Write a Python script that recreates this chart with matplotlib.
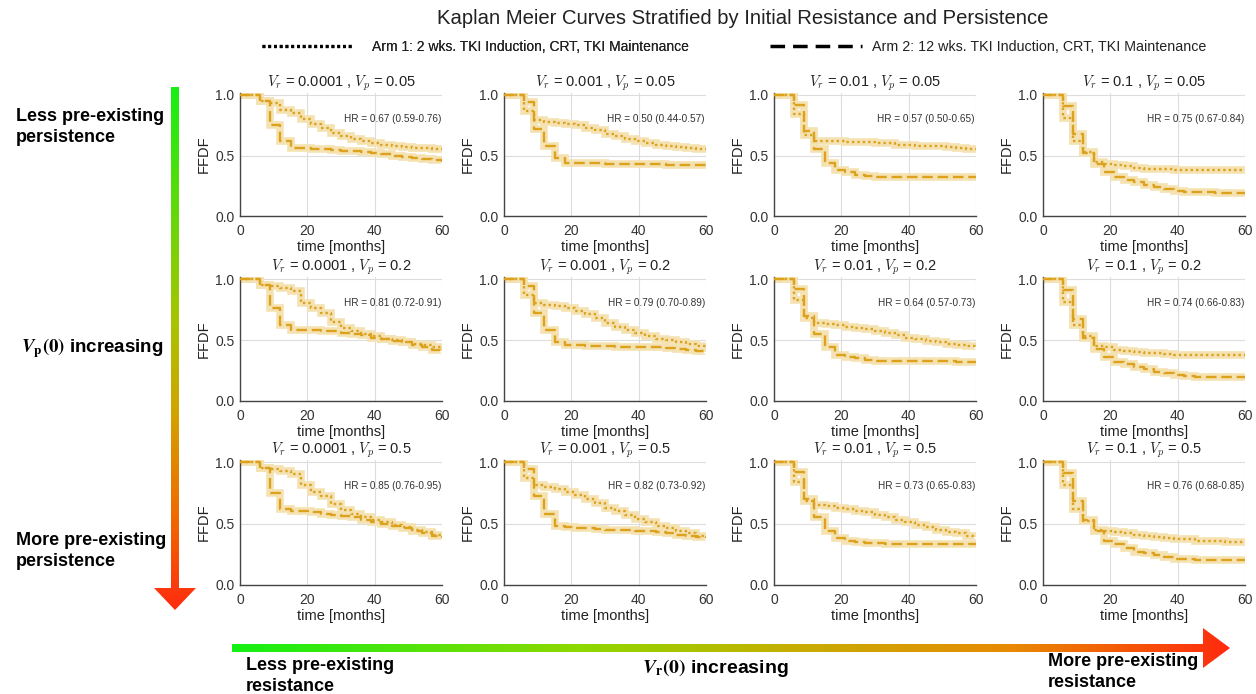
import numpy as np
import matplotlib
matplotlib.use("Agg")
import matplotlib.pyplot as plt
from matplotlib.lines import Line2D
from matplotlib.patches import Polygon
from matplotlib.colors import LinearSegmentedColormap

plt.rcParams['font.family'] = ['Liberation Sans', 'DejaVu Sans']

# temps des paliers (mois)
t_months = np.arange(0, 61, 3)

vr_values = ['0.0001', '0.001', '0.01', '0.1']
vp_values = ['0.05', '0.2', '0.5']

hr_labels = [
    ['0.67 (0.59-0.76)', '0.50 (0.44-0.57)', '0.57 (0.50-0.65)', '0.75 (0.67-0.84)'],
    ['0.81 (0.72-0.91)', '0.79 (0.70-0.89)', '0.64 (0.57-0.73)', '0.74 (0.66-0.83)'],
    ['0.85 (0.76-0.95)', '0.82 (0.73-0.92)', '0.73 (0.65-0.83)', '0.76 (0.68-0.85)'],
]

# Bras 1 : 2 sem. induction TKI (pointillés)
arm1_vp005 = [
    [1, 1, .95, .93, .88, .85, .80, .76, .73, .69, .66, .64, .62, .60, .59, .58, .57, .56, .56, .55, .55],
    [1, 1, .87, .79, .78, .77, .76, .75, .73, .71, .68, .66, .64, .62, .60, .59, .58, .57, .56, .555, .55],
    [1, 1, .84, .67, .62, .62, .62, .615, .61, .61, .60, .60, .59, .59, .58, .58, .575, .57, .56, .55, .55],
    [1, 1, .81, .62, .53, .45, .43, .42, .41, .40, .39, .39, .385, .38, .38, .38, .38, .38, .38, .38, .38],
]
arm1_vp02 = [
    [1, 1, .95, .94, .93, .90, .80, .76, .72, .65, .60, .57, .55, .53, .51, .50, .48, .47, .455, .44, .43],
    [1, 1, .87, .80, .79, .78, .76, .74, .71, .68, .64, .61, .58, .56, .53, .51, .50, .48, .47, .45, .44],
    [1, 1, .83, .68, .64, .63, .625, .61, .60, .59, .57, .56, .54, .52, .51, .49, .48, .47, .46, .45, .44],
    [1, 1, .81, .62, .53, .45, .44, .42, .41, .40, .39, .39, .385, .38, .38, .38, .38, .38, .38, .38, .38],
]
arm1_vp05 = [
    [1, 1, .95, .94, .93, .90, .81, .76, .72, .66, .61, .58, .55, .53, .51, .49, .47, .45, .43, .41, .39],
    [1, 1, .87, .81, .80, .78, .76, .73, .70, .67, .63, .60, .57, .54, .51, .48, .46, .44, .42, .40, .38],
    [1, 1, .84, .68, .65, .64, .63, .62, .60, .59, .57, .55, .53, .51, .49, .47, .45, .43, .42, .40, .39],
    [1, 1, .81, .62, .52, .45, .44, .43, .42, .41, .40, .39, .38, .375, .37, .36, .36, .355, .35, .35, .35],
]

# Bras 2 : 12 sem. induction TKI (tirets)
arm2_vp005 = [
    [1, 1, .95, .75, .62, .56, .56, .555, .55, .545, .54, .535, .53, .52, .51, .50, .49, .48, .47, .46, .45],
    [1, 1, .94, .72, .58, .48, .44, .44, .435, .435, .43, .43, .43, .43, .43, .43, .425, .425, .42, .42, .42],
    [1, 1, .92, .70, .55, .44, .38, .36, .34, .33, .325, .32, .32, .32, .32, .32, .32, .32, .32, .32, .32],
    [1, 1, .91, .68, .52, .43, .36, .32, .30, .28, .26, .24, .22, .21, .20, .20, .195, .19, .19, .19, .19],
]
arm2_vp02 = [
    [1, 1, .95, .76, .62, .58, .58, .58, .575, .57, .56, .55, .54, .52, .51, .49, .48, .46, .44, .42, .41],
    [1, 1, .94, .72, .58, .48, .46, .455, .45, .45, .45, .445, .445, .44, .44, .44, .435, .43, .42, .41, .40],
    [1, 1, .92, .70, .55, .44, .38, .36, .35, .34, .33, .33, .33, .33, .33, .33, .33, .325, .32, .32, .32],
    [1, 1, .91, .67, .52, .43, .36, .32, .30, .28, .26, .24, .23, .21, .205, .20, .20, .20, .20, .20, .20],
]
arm2_vp05 = [
    [1, 1, .95, .75, .62, .60, .60, .59, .58, .57, .56, .55, .53, .51, .50, .48, .46, .44, .42, .40, .38],
    [1, 1, .94, .72, .58, .48, .47, .46, .46, .455, .45, .45, .445, .44, .44, .43, .42, .41, .40, .39, .38],
    [1, 1, .92, .70, .55, .44, .38, .36, .35, .34, .34, .335, .33, .33, .33, .33, .33, .33, .33, .33, .33],
    [1, 1, .91, .68, .53, .44, .36, .33, .30, .27, .26, .24, .225, .21, .21, .205, .20, .20, .20, .20, .20],
]

arm1 = [arm1_vp005, arm1_vp02, arm1_vp05]
arm2 = [arm2_vp005, arm2_vp02, arm2_vp05]

W, H = 1256, 694
couleur = '#DCA21E'
bande = '#F5E2B2'

fig = plt.figure(figsize=(W / 100, H / 100), dpi=100)


def fx(x):  # pixels -> fraction de la figure
    return x / W


def fy(y):
    return 1 - y / H


# fond avec les flèches en dégradé
fond = fig.add_axes([0, 0, 1, 1], zorder=-5)
fond.set_xlim(0, W)
fond.set_ylim(H, 0)
fond.axis('off')

cmap_v = LinearSegmentedColormap.from_list('vert_rouge', [
    (0, '#14f014'), (0.45, '#a8c400'), (0.62, '#d2a400'), (0.82, '#f06a00'), (1, '#ff2a10')])
cmap_h = LinearSegmentedColormap.from_list('vert_rouge_h', [
    (0, '#14f014'), (0.35, '#8ed800'), (0.55, '#c4b000'), (0.78, '#e88a00'), (1, '#ff2a10')])

fleche_v = Polygon([(171, 87), (179, 87), (179, 588), (196, 588), (175, 610), (154, 588), (171, 588)],
                   closed=True, facecolor='none', edgecolor='none')
fond.add_patch(fleche_v)
img = fond.imshow(np.linspace(0, 1, 256).reshape(-1, 1), cmap=cmap_v, aspect='auto',
                  extent=(150, 200, 612, 85), origin='upper')
img.set_clip_path(fleche_v)

fleche_h = Polygon([(232, 644), (1203, 644), (1203, 628), (1230, 648), (1203, 668), (1203, 652), (232, 652)],
                   closed=True, facecolor='none', edgecolor='none')
fond.add_patch(fleche_h)
img = fond.imshow(np.linspace(0, 1, 256).reshape(1, -1), cmap=cmap_h, aspect='auto',
                  extent=(230, 1232, 670, 626), origin='upper')
img.set_clip_path(fleche_h)

# grille des courbes de Kaplan Meier
col_gauche = [240, 504, 774, 1043]
col_larg = 202
ligne_un = [95, 279, 462]
ligne_zero = [216, 401, 585]
ytop = 1.015

for r in range(3):
    for c in range(4):
        h = (ligne_zero[r] - ligne_un[r]) * ytop
        ax = fig.add_axes([fx(col_gauche[c]), fy(ligne_zero[r]), col_larg / W, h / H])
        s1 = arm1[r][c]
        s2 = arm2[r][c]
        for s in (s1, s2):
            ax.step(t_months, s, where='post', color=bande, lw=5.5,
                    solid_joinstyle='miter', solid_capstyle='butt', zorder=1)
        ax.step(t_months, s1, where='post', color=couleur, lw=1.7,
                linestyle=(0, (1, 1.3)), zorder=3)
        ax.step(t_months, s2, where='post', color=couleur, lw=1.7,
                linestyle=(0, (4.5, 2)), zorder=3)
        ax.set_xlim(0, 60)
        ax.set_ylim(0, ytop)
        ax.set_xticks([0, 20, 40, 60])
        ax.set_yticks([0.0, 0.5, 1.0])
        ax.grid(True, color='#dddddd', lw=0.8)
        ax.set_axisbelow(True)
        for side in ('top', 'right'):
            ax.spines[side].set_visible(False)
        for side in ('left', 'bottom'):
            ax.spines[side].set_color('#444444')
            ax.spines[side].set_linewidth(1.0)
        ax.tick_params(axis='x', labelsize=10, colors='#333333', length=0, pad=6)
        ax.tick_params(axis='y', labelsize=10, colors='#333333', length=0, pad=4)
        ax.set_xlabel('time [months]', fontsize=10.5, color='#222222', labelpad=1)
        ax.set_ylabel('FFDF', fontsize=10.5, color='#222222', labelpad=3)
        ax.set_title(rf'$V_r$ = {vr_values[c]} , $V_p$ = {vp_values[r]}', fontsize=10.5,
                     color='#222222', pad=1, math_fontfamily='cm')
        ax.text(0.995, 0.79, 'HR = ' + hr_labels[r][c], transform=ax.transAxes,
                ha='right', va='center', fontsize=7.2, color='#333333')

# titre et légende
fig.text(fx(743), fy(19), 'Kaplan Meier Curves Stratified by Initial Resistance and Persistence',
         ha='center', va='center', fontsize=14.6, color='#222222')
leg1 = fig.legend([Line2D([], [], color='black', lw=2.3, linestyle=(0, (0.9, 0.9)))],
                  ['Arm 1: 2 wks. TKI Induction, CRT, TKI Maintenance'],
                  loc='center left', bbox_to_anchor=(fx(262), fy(47)), frameon=False,
                  borderpad=0, borderaxespad=0, fontsize=10, handlelength=6.5,
                  handletextpad=1.45, labelcolor='#222222')
fig.add_artist(leg1)
fig.legend([Line2D([], [], color='black', lw=2.5, linestyle=(0, (4.2, 2.3)))],
           ['Arm 2: 12 wks. TKI Induction, CRT, TKI Maintenance'],
           loc='center left', bbox_to_anchor=(fx(770), fy(47)), frameon=False,
           borderpad=0, borderaxespad=0, fontsize=10.3, handlelength=6.4,
           handletextpad=0.7, labelcolor='#222222')

# annotations des axes de stratification
fig.text(fx(16), fy(127), 'Less pre-existing\npersistence', ha='left', va='center',
         fontsize=13, fontweight='bold', linespacing=1.35)
fig.text(fx(16), fy(551), 'More pre-existing\npersistence', ha='left', va='center',
         fontsize=13, fontweight='bold', linespacing=1.35)
fig.text(fx(92), fy(348), r'$\boldsymbol{V}_{\mathbf{p}}\mathbf{(0)}$ increasing', ha='center',
         va='center', fontsize=13.5, fontweight='bold', math_fontfamily='stix')
fig.text(fx(246), fy(676), 'Less pre-existing\nresistance', ha='left', va='center',
         fontsize=13, fontweight='bold', linespacing=1.3)
fig.text(fx(1048), fy(672), 'More pre-existing\nresistance', ha='left', va='center',
         fontsize=13, fontweight='bold', linespacing=1.35)
fig.text(fx(715), fy(668), r'$\boldsymbol{V}_{\mathbf{r}}\mathbf{(0)}$ increasing', ha='center',
         va='center', fontsize=14, fontweight='bold', math_fontfamily='stix')

fig.savefig('out.png', dpi=100)
